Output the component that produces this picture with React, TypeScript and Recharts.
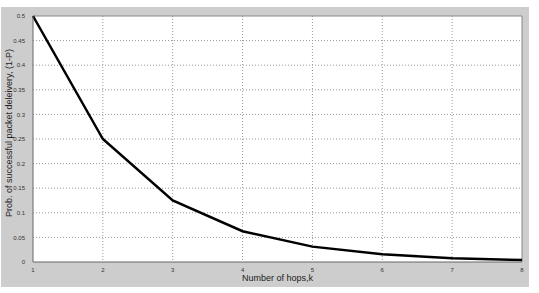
import { LineChart, Line, XAxis, YAxis, CartesianGrid, ReferenceLine } from "recharts"

const hops = [1, 2, 3, 4, 5, 6, 7, 8]
const success = [0.5, 0.25, 0.125, 0.0625, 0.03125, 0.0156, 0.0078, 0.0039]
const xTicks = [1, 2, 3, 4, 5, 6, 7, 8]
const yTicks = [0, 0.05, 0.1, 0.15, 0.2, 0.25, 0.3, 0.35, 0.4, 0.45, 0.5]

const data = hops.map((k, i) => ({ k, p: success[i] }))

const font = "Arial, 'Liberation Sans', sans-serif"
const tickStyle = { fontSize: 6, fill: "#333", fontFamily: font }

export default function App() {
  return (
    <div style={{ position: "absolute", left: 0, top: 0, width: 539, height: 293, background: "#fff" }}>
      <div style={{ position: "absolute", left: 1, top: 7, width: 528, height: 280, background: "#cdcdcd" }} />
      <div style={{ position: "absolute", left: 0, top: 0 }}>
        <LineChart width={539} height={293} data={data} margin={{ top: 16, right: 17, bottom: 0, left: 0 }}>
          <CartesianGrid fill="#fff" stroke="#999" strokeDasharray="1 2" horizontalValues={yTicks.slice(1, -1)} verticalValues={xTicks.slice(1, -1)} />
          <XAxis
            dataKey="k"
            type="number"
            domain={[1, 8]}
            ticks={xTicks}
            height={31}
            tickLine={false}
            tickMargin={0}
            stroke="#666"
            tick={tickStyle}
            label={{
              content: ({ viewBox }: any) => (
                <text
                  x={viewBox.x + viewBox.width / 2}
                  y={278}
                  textAnchor="middle"
                  dominantBaseline="central"
                  style={{ fontSize: 9, fill: "#222", fontFamily: font }}
                >
                  Number of hops,k
                </text>
              ),
            }}
          />
          <YAxis
            type="number"
            domain={[0, 0.5]}
            ticks={yTicks}
            width={33}
            tickLine={false}
            tickMargin={2}
            stroke="#666"
            tick={tickStyle}
            label={{
              content: () => (
                <text
                  x={9}
                  y={133}
                  transform="rotate(-90, 9, 133)"
                  textAnchor="middle"
                  dominantBaseline="central"
                  style={{ fontSize: 9, fill: "#222", fontFamily: font }}
                >
                  Prob. of successful packet deleivery, (1-P)
                </text>
              ),
            }}
          />
          <ReferenceLine y={0.5} stroke="#888" />
          <ReferenceLine x={8} stroke="#888" />
          <Line dataKey="p" type="linear" stroke="#000" strokeWidth={2.5} dot={false} isAnimationActive={false} />
        </LineChart>
      </div>
    </div>
  )
}
